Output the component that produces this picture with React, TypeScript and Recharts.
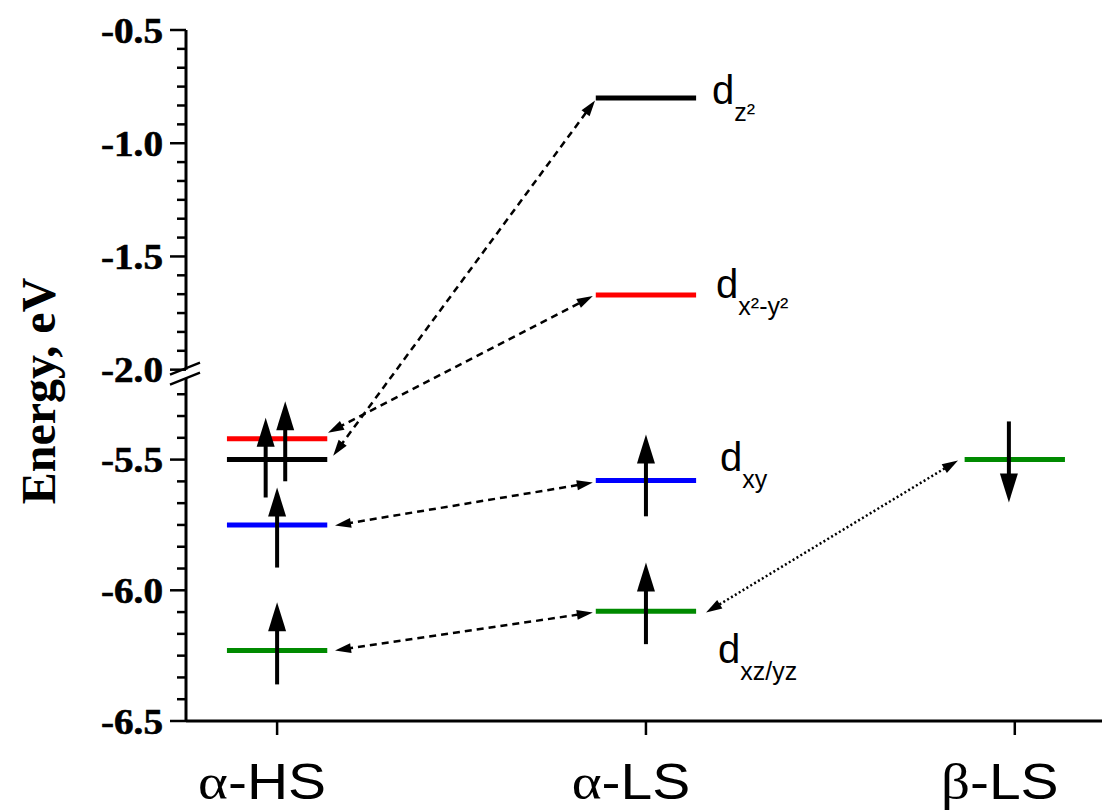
import React from "react";
import { ComposedChart, Line, XAxis, YAxis, ReferenceLine, ReferenceDot } from "recharts";

// ─── Data ────────────────────────────────────────────────────────────────────
const states = ["α-HS", "α-LS", "β-LS"];
const statePos = [0, 1, 2];

// d-orbital levels (eV)
const levelState = [0, 0, 0, 0, 1, 1, 1, 1, 2];
const levelEnergy = [-5.42, -5.5, -5.75, -6.23, -0.8, -1.67, -5.58, -6.08, -5.5];
const levelColor = ["#ff0000", "#000000", "#0000ff", "#008a00", "#000000", "#ff0000", "#0000ff", "#008a00", "#008a00"];
const levelLabel = ["", "", "", "", "z²", "x²-y²", "xy", "xz/yz", ""];

// spin arrows: x position, tail energy, tip energy
const spinX = [-0.031, 0.022, 0, 0, 1, 1, 1.984];
const spinTail = [-5.645, -5.583, -5.913, -6.36, -5.717, -6.206, -5.354];
const spinTip = [-5.34, -5.277, -5.607, -6.046, -5.404, -5.894, -5.664];

// correlation arrows between states
const linkFromX = [0.138, 0.152, 0.157, 0.157, 1.163];
const linkFromE = [-5.397, -5.485, -5.752, -6.23, -6.085];
const linkToX = [0.856, 0.862, 0.856, 0.856, 1.846];
const linkToE = [-1.675, -0.811, -5.588, -6.085, -5.503];
const linkDotted = [false, false, false, false, true];

// axis ticks
const upperMajor = [-0.5, -1.0, -1.5, -2.0];
const lowerMajor = [-5.5, -6.0, -6.5];

// ─── Broken axis helpers ─────────────────────────────────────────────────────
const LOWER_SCALE = 261.7; // px per eV below break
const UPPER_SCALE = 226.7; // px per eV above break
const BREAK_U = -5.156;
const toU = (e: number) => (e > -3 ? BREAK_U + (e + 2.0) * (UPPER_SCALE / LOWER_SCALE) : e);
const U_TOP = toU(-0.5);
const U_BOTTOM = -6.5;
const X_MIN = -0.247;
const X_MAX = 2.25;
const HALF = 0.136;
const MINOR = 0.5 / 6;

type Tk = { u: number; label: string; major: boolean };
const tickList: Tk[] = [];
upperMajor.forEach((e, i) => {
  tickList.push({ u: toU(e), label: e.toFixed(1), major: true });
  if (i < upperMajor.length - 1)
    for (let k = 1; k < 6; k++) tickList.push({ u: toU(e - k * MINOR), label: "", major: false });
});
for (let k = 1; k <= 3; k++) tickList.push({ u: -5.5 + k * MINOR, label: "", major: false });
lowerMajor.forEach((e, i) => {
  tickList.push({ u: e, label: e.toFixed(1), major: true });
  if (i < lowerMajor.length - 1)
    for (let k = 1; k < 6; k++) tickList.push({ u: e - k * MINOR, label: "", major: false });
});
const ticksU = tickList.map((t) => t.u);

const labelOffset: Record<string, { dx: number; dy: number }> = {
  "z²": { dx: 16, dy: 6 },
  "x²-y²": { dx: 20, dy: 3 },
  xy: { dx: 24, dy: -10 },
  "xz/yz": { dx: 22, dy: 52 },
};

const SANS = "'Liberation Sans', Arial, sans-serif";
const SERIF = "'Liberation Serif', 'Times New Roman', serif";

// ─── Ticks & labels ──────────────────────────────────────────────────────────
function YTick({ x, y, payload }: any) {
  const t = tickList.find((tk) => Math.abs(tk.u - payload.value) < 1e-6);
  const major = !!t?.major;
  return (
    <g>
      <line x1={x - (major ? 16 : 9)} x2={x} y1={y} y2={y} stroke="#000" strokeWidth={2.5} />
      {major && (
        <text
          transform={`translate(${x - 23},${y}) scale(1.12,1)`}
          textAnchor="end"
          dy="0.36em"
          fontFamily={SERIF}
          fontWeight="bold"
          fontSize={35}
          stroke="#000"
          strokeWidth={0.6}
          fill="#000"
        >
          {t!.label}
        </text>
      )}
    </g>
  );
}

function XTick({ x, y, payload }: any) {
  const name = states[payload.value] ?? "";
  return (
    <text
      transform={`translate(${x - 15},${y + 64}) scale(1.14,1)`}
      textAnchor="middle"
      fontSize={50}
      fontFamily={SANS}
      fill="#000"
    >
      <tspan fontFamily={SERIF}>{name.slice(0, 1)}</tspan>
      {name.slice(1)}
    </text>
  );
}

function YLabel() {
  return (
    <text
      transform="translate(30,383) rotate(-90)"
      textAnchor="middle"
      dominantBaseline="central"
      fontFamily={SERIF}
      fontWeight="bold"
      fontSize={48}
      fill="#000"
    >
      Energy, eV
    </text>
  );
}

function LevelLabel({ cx, cy, name }: any) {
  const o = labelOffset[name];
  return (
    <text x={cx + o.dx} y={cy + o.dy} fontFamily={SANS} fontSize={40} fill="#000">
      d
      <tspan dy={17} fontSize={25}>
        {name}
      </tspan>
    </text>
  );
}

// arrow drawn between reference-line end points
function arrow(p: any, head: number, width: number, sw: number, dash?: string, both?: boolean) {
  const { x1, y1, x2, y2 } = p;
  const L = Math.hypot(x2 - x1, y2 - y1) || 1;
  const ux = (x2 - x1) / L;
  const uy = (y2 - y1) / L;
  const nx = -uy;
  const ny = ux;
  const tri = (tx: number, ty: number, sx: number, sy: number) => {
    const bx = tx - sx * head;
    const by = ty - sy * head;
    return `${tx},${ty} ${bx + (nx * width) / 2},${by + (ny * width) / 2} ${bx - (nx * width) / 2},${by - (ny * width) / 2}`;
  };
  const sx = both ? x1 + ux * head * 0.7 : x1;
  const sy = both ? y1 + uy * head * 0.7 : y1;
  return (
    <g>
      <line x1={sx} y1={sy} x2={x2 - ux * head * 0.7} y2={y2 - uy * head * 0.7} stroke="#000" strokeWidth={sw} strokeDasharray={dash} />
      <polygon points={tri(x2, y2, ux, uy)} fill="#000" />
      {both && <polygon points={tri(x1, y1, -ux, -uy)} fill="#000" />}
    </g>
  );
}

function breakMarks(p: any) {
  const x = p.x1;
  const y = p.y1;
  return (
    <g stroke="#000" strokeWidth={2.5}>
      <line x1={x - 16} y1={y + 1} x2={x + 14} y2={y - 11} />
      <line x1={x - 16} y1={y + 11} x2={x + 14} y2={y - 1} />
    </g>
  );
}

// ─── Main ────────────────────────────────────────────────────────────────────
export default function App() {
  return (
    <div style={{ width: 1102, height: 803, background: "#fff" }}>
      <ComposedChart width={1102} height={803} margin={{ top: 22, right: 3, bottom: 0, left: 0 }}>
        <XAxis
          type="number"
          dataKey="x"
          domain={[X_MIN, X_MAX]}
          allowDataOverflow
          ticks={statePos}
          interval={0}
          height={90}
          tickSize={14}
          tickMargin={0}
          axisLine={{ stroke: "#000", strokeWidth: 3 }}
          tickLine={{ stroke: "#000", strokeWidth: 2.5 }}
          tick={<XTick />}
        />
        <YAxis
          type="number"
          domain={[U_BOTTOM, U_TOP]}
          allowDataOverflow
          ticks={ticksU}
          interval={0}
          width={178}
          tickSize={0}
          tickMargin={0}
          axisLine={false}
          tickLine={false}
          tick={<YTick />}
          label={<YLabel />}
        />

        {/* broken y axis line */}
        <ReferenceLine segment={[{ x: X_MIN, y: U_BOTTOM }, { x: X_MIN, y: BREAK_U - 0.034 }]} stroke="#000" strokeWidth={3} />
        <ReferenceLine segment={[{ x: X_MIN, y: BREAK_U }, { x: X_MIN, y: U_TOP }]} stroke="#000" strokeWidth={3} />
        <ReferenceLine y={BREAK_U - 0.0153} shape={breakMarks} />

        {/* correlation arrows */}
        {linkFromX.map((fx, i) => (
          <ReferenceLine
            key={`link${i}`}
            segment={[{ x: fx, y: toU(linkFromE[i]) }, { x: linkToX[i], y: toU(linkToE[i]) }]}
            shape={(p: any) => arrow(p, 16, 10, 2.5, linkDotted[i] ? "2 2.5" : "7 5", true)}
          />
        ))}

        {/* orbital levels */}
        {levelEnergy.map((e, i) => {
          const c = statePos[levelState[i]];
          return (
            <Line
              key={`lvl${i}`}
              data={[{ x: c - HALF, u: toU(e) }, { x: c + HALF, u: toU(e) }]}
              dataKey="u"
              stroke={levelColor[i]}
              strokeWidth={5}
              dot={false}
              activeDot={false}
              isAnimationActive={false}
            />
          );
        })}

        {/* spin arrows */}
        {spinX.map((sx, i) => (
          <ReferenceLine
            key={`spin${i}`}
            segment={[{ x: sx, y: toU(spinTail[i]) }, { x: sx, y: toU(spinTip[i]) }]}
            shape={(p: any) => arrow(p, 29, 18, 4)}
          />
        ))}

        {/* level labels */}
        {levelEnergy.map((e, i) =>
          levelLabel[i] ? (
            <ReferenceDot
              key={`lab${i}`}
              x={statePos[levelState[i]] + HALF}
              y={toU(e)}
              r={0}
              shape={(p: any) => <LevelLabel cx={p.cx} cy={p.cy} name={levelLabel[i]} />}
            />
          ) : null
        )}
      </ComposedChart>
    </div>
  );
}
